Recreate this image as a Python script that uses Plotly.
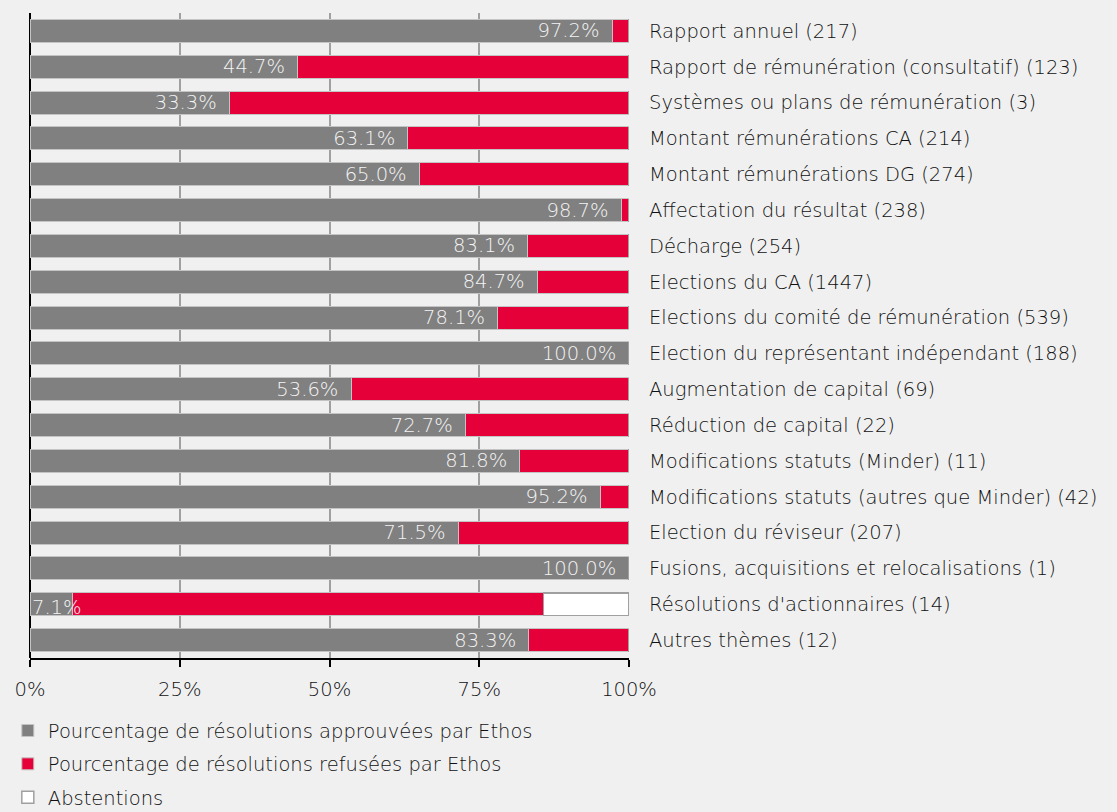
import plotly.graph_objects as go

categories = [
    "Rapport annuel (217)",
    "Rapport de rémunération (consultatif) (123)",
    "Systèmes ou plans de rémunération (3)",
    "Montant rémunérations CA (214)",
    "Montant rémunérations DG (274)",
    "Affectation du résultat (238)",
    "Décharge (254)",
    "Elections du CA (1447)",
    "Elections du comité de rémunération (539)",
    "Election du représentant indépendant (188)",
    "Augmentation de capital (69)",
    "Réduction de capital (22)",
    "Modifications statuts (Minder) (11)",
    "Modifications statuts (autres que Minder) (42)",
    "Election du réviseur (207)",
    "Fusions, acquisitions et relocalisations (1)",
    "Résolutions d'actionnaires (14)",
    "Autres thèmes (12)",
]
approved = [97.2, 44.7, 33.3, 63.1, 65.0, 98.7, 83.1, 84.7, 78.1, 100.0,
            53.6, 72.7, 81.8, 95.2, 71.5, 100.0, 7.1, 83.3]
refused = [2.8, 55.3, 66.7, 36.9, 35.0, 1.3, 16.9, 15.3, 21.9, 0.0,
           46.4, 27.3, 18.2, 4.8, 28.5, 0.0, 78.6, 16.7]
abstentions = [0, 0, 0, 0, 0, 0, 0, 0, 0, 0, 0, 0, 0, 0, 0, 0, 14.3, 0]
x_ticks = [0, 25, 50, 75, 100]
x_ticklabels = ["0%", "25%", "50%", "75%", "100%"]

GRAY = "#808080"
RED = "#e5003a"
BG = "#f0f0f0"
FONT = "DejaVu Sans"
FS = 19.5
W = 300
TXT = "#111111"

inside_text = []
narrow = []
for c, v in zip(categories, approved):
    if v < 15:
        inside_text.append("")
        narrow.append((c, v))
    else:
        inside_text.append(f"{v:.1f}%\u2002")

fig = go.Figure()
fig.add_trace(go.Bar(
    y=categories, x=approved, orientation="h",
    name="Pourcentage de résolutions approuvées par Ethos",
    marker=dict(color=GRAY, line=dict(color="#c4c4c4", width=1)),
    text=inside_text, textposition="inside", insidetextanchor="end",
    constraintext="none",
    textfont=dict(color="#f4f4f4", size=FS, family=FONT, weight=W),
    legendgroup="a", hoverinfo="x+y",
))
fig.add_trace(go.Bar(
    y=categories, x=refused, orientation="h",
    name="Pourcentage de résolutions refusées par Ethos",
    marker=dict(color=RED, line=dict(color="#c4c4c4", width=1)),
    legendgroup="b", hoverinfo="x+y",
))
fig.add_trace(go.Bar(
    y=categories, x=abstentions, orientation="h",
    name="Abstentions",
    marker=dict(color="white", line=dict(color="#a0a0a0", width=1.5)),
    legendgroup="c", hoverinfo="x+y",
))

for c, v in narrow:
    fig.add_annotation(x=0, y=c, xref="x", yref="y", text=f"{v:.1f}%",
                       showarrow=False, xanchor="left", xshift=0, yshift=-3,
                       font=dict(color="#f4f4f4", size=FS, family=FONT, weight=W))

fig.update_layout(
    barmode="stack",
    bargap=0.36,
    width=1117, height=812,
    paper_bgcolor=BG, plot_bgcolor=BG,
    margin=dict(l=30, r=488, t=13, b=154, autoexpand=False),
    font=dict(family=FONT, size=FS, color=TXT, weight=W),
    legend=dict(
        xref="container", yref="container", x=0.007, y=0.124,
        xanchor="left", yanchor="top", orientation="v",
        traceorder="grouped", tracegroupgap=5,
        font=dict(size=FS, family=FONT, color=TXT, weight=W),
        bgcolor="rgba(0,0,0,0)",
    ),
    xaxis=dict(
        range=[0, 100], tickvals=x_ticks, ticktext=x_ticklabels,
        showgrid=True, gridcolor="#a0a0a0", gridwidth=1.5,
        zeroline=True, zerolinecolor="#000000", zerolinewidth=2,
        showline=True, linecolor="#000000", linewidth=2,
        ticks="outside", ticklen=7, tickwidth=2, tickcolor="#000000",
        ticklabelstandoff=6, fixedrange=True, automargin=False,
    ),
    yaxis=dict(
        side="right", autorange="reversed", showgrid=False,
        showline=False, ticks="", ticklabelstandoff=19,
        zeroline=False, fixedrange=True, automargin=False,
    ),
    showlegend=True,
)

fig.write_html(
    "out.html",
    config={"displayModeBar": False},
    post_script="document.body.style.margin='0';document.body.style.background='#f0f0f0';",
)
